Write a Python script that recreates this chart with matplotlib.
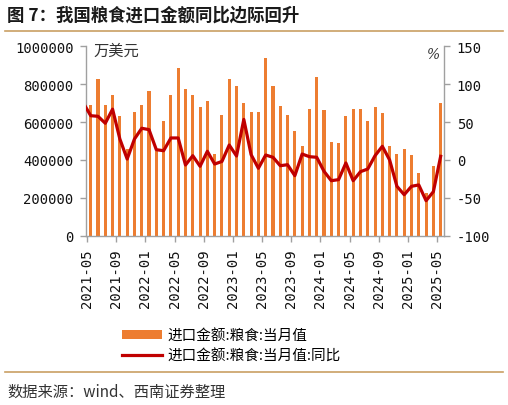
import matplotlib
matplotlib.use("Agg")
import matplotlib.pyplot as plt
import numpy as np
from matplotlib.lines import Line2D

# ---------------- data ----------------
# monthly grain import value (万美元), 2021-05 .. 2025-05
amount = [690000, 827000, 690000, 742000, 630000, 458000, 655000, 692000, 764000, 449000,
          606000, 741000, 884000, 775000, 741000, 678000, 710000, 431000, 637000, 827000,
          789000, 700000, 654000, 654000, 937000, 789000, 685000, 637000, 552000, 472000,
          669000, 836000, 663000, 493000, 488000, 630000, 669000, 669000, 607000, 678000,
          647000, 472000, 431000, 458000, 426000, 331000, 227000, 369000, 703000]
# year-on-year (%), 2021-04 .. 2025-05 (first point lies just left of the axis)
yoy = [75.0, 58.4, 57.6, 48.4, 67.0, 27.6, 1.2, 27.6, 41.8, 40.0, 13.5,
       12.2, 29.0, 29.0, -6.7, 5.6, -8.4, 11.4, -5.4, -2.0, 19.7,
       5.2, 53.5, 7.0, -11.0, 6.5, 3.5, -7.6, -6.3, -20.8, 7.8,
       4.3, 3.5, -15.0, -27.4, -26.0, -4.0, -27.4, -15.5, -12.0, 5.6,
       18.0, 0.0, -34.8, -45.9, -34.8, -33.0, -53.8, -41.9, 4.8]
tick_labels = ['2021-05', '2021-09', '2022-01', '2022-05', '2022-09', '2023-01', '2023-05',
               '2023-09', '2024-01', '2024-05', '2024-09', '2025-01', '2025-05']
left_ticks = [0, 200000, 400000, 600000, 800000, 1000000]
right_ticks = [-100, -50, 0, 50, 100, 150]

title = '图 7：我国粮食进口金额同比边际回升'
label_bar = '进口金额:粮食:当月值'
label_line = '进口金额:粮食:当月值:同比'
source = '数据来源：wind、西南证券整理'

# ---------------- style ----------------
CJK = ['Noto Sans CJK SC', 'DejaVu Sans']
MONO = ['DejaVu Sans Mono']
BAR_C = '#ED7D31'
LINE_C = '#C00000'
SPINE_C = '#A0A0A0'
RULE_C = '#C9A063'

fig = plt.figure(figsize=(5.08, 4.06), dpi=100)
W, H = 508, 406

ax = fig.add_axes([86 / W, 1 - 236.7 / H, (444.3 - 86) / W, (236.7 - 47.3) / H])
ax2 = ax.twinx()

x_bar = np.arange(len(amount))
x_line = np.arange(len(yoy)) - 1

ax.bar(x_bar, amount, width=0.42, color=BAR_C, linewidth=0, zorder=2)
ax2.plot(x_line, yoy, color=LINE_C, linewidth=2.3, solid_joinstyle='round', zorder=3)

ax.set_xlim(-0.645, 48.5)
ax.set_ylim(0, 1000000)
ax2.set_ylim(-100, 150)

ax.set_xticks(np.arange(0, len(amount), 4) - 0.5)
ax.set_xticklabels(tick_labels, rotation=90, family=MONO, fontsize=10)
ax.set_yticks(left_ticks)
ax.set_yticklabels([str(v) for v in left_ticks], family=MONO, fontsize=10)
ax2.set_yticks(right_ticks)
ax2.set_yticklabels([str(v) for v in right_ticks], family=MONO, fontsize=10)

for a in (ax, ax2):
    a.spines['top'].set_visible(False)
    for s in ('left', 'right', 'bottom'):
        a.spines[s].set_color(SPINE_C)
        a.spines[s].set_linewidth(1.0)
    a.tick_params(axis='both', color=SPINE_C, length=4, width=1, direction='out',
                  labelcolor='#111111', pad=5)
    a.set_facecolor('none')
ax.spines['right'].set_visible(False)
ax2.spines['left'].set_visible(False)
ax2.spines['bottom'].set_visible(False)

# unit labels
fig.text(93 / W, 1 - 51.5 / H, '万美元', family=CJK, fontsize=11, color='#333333',
         ha='left', va='center')
fig.text(434 / W, 1 - 55 / H, '%', family=['DejaVu Serif'], fontsize=10, color='#333333',
         ha='center', va='center', style='italic')

# title and rules
fig.text(7 / W, 1 - 15.5 / H, title, family=CJK, fontsize=12.5, fontweight='bold',
         color='#1a1a1a', ha='left', va='center')
fig.add_artist(Line2D([5 / W, 503 / W], [1 - 31.7 / H, 1 - 31.7 / H],
                      color=RULE_C, linewidth=1.2, transform=fig.transFigure))
fig.add_artist(Line2D([5 / W, 503 / W], [1 - 372.7 / H, 1 - 372.7 / H],
                      color=RULE_C, linewidth=1.2, transform=fig.transFigure))
fig.text(7 / W, 1 - 392 / H, source, family=CJK, fontsize=11, color='#333333',
         ha='left', va='center', style='italic')

# legend
h1 = ax.patches[0]
h2 = ax2.lines[0]
leg = fig.legend([h1, h2], [label_bar, label_line], loc='upper left',
                 bbox_to_anchor=(112 / W, 1 - 319 / H), frameon=False,
                 prop={'family': CJK, 'size': 10.5}, handlelength=2.75,
                 handleheight=0.55, handletextpad=0.35, labelspacing=0.45,
                 borderpad=0.2)

fig.savefig('out.png', dpi=100)
